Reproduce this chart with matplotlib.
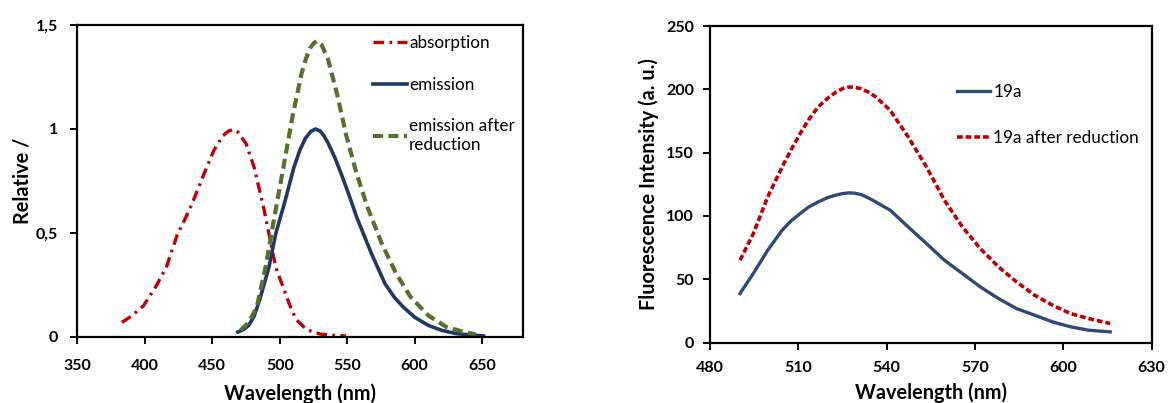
import matplotlib
matplotlib.use("Agg")
import matplotlib.pyplot as plt

plt.rcParams['font.family'] = ['Lato', 'DejaVu Sans']

# ---- Left panel data ----
abs_x = [383, 390, 399, 408, 416, 424, 430, 435, 443, 451, 457.5, 462, 465.5, 469, 475, 481, 488, 493, 497, 503, 507, 512, 520, 530, 540, 549]
abs_y = [0.07, 0.10, 0.15, 0.24, 0.336, 0.49, 0.57, 0.64, 0.77, 0.895, 0.965, 0.99, 0.998, 0.985, 0.930, 0.816, 0.624, 0.464, 0.336, 0.23, 0.16, 0.085, 0.035, 0.014, 0.008, 0.005]

em_x = [469, 473, 477, 481, 485, 492, 497, 504, 510.5, 515, 519, 523, 526.5, 530, 533, 536, 541, 546.5, 552, 557, 563, 568, 578, 585, 591.5, 600, 610, 620, 631, 651]
em_y = [0.024, 0.035, 0.056, 0.10, 0.176, 0.336, 0.496, 0.656, 0.816, 0.90, 0.955, 0.988, 1.0, 0.99, 0.965, 0.93, 0.86, 0.768, 0.67, 0.576, 0.48, 0.40, 0.256, 0.19, 0.144, 0.095, 0.056, 0.032, 0.016, 0.005]

red_x = [471, 477, 483, 489.5, 496, 502.7, 509.3, 516, 519.5, 522.6, 525.5, 528, 531, 535.8, 542.5, 549, 557, 565, 575.7, 586.3, 597, 610, 623.5, 636.7, 645]
red_y = [0.032, 0.07, 0.144, 0.336, 0.576, 0.816, 1.056, 1.263, 1.34, 1.39, 1.415, 1.423, 1.405, 1.335, 1.167, 0.976, 0.784, 0.624, 0.448, 0.304, 0.192, 0.104, 0.048, 0.024, 0.013]

left_yticks = [0, 0.5, 1, 1.5]
left_yticklabels = ['0', '0,5', '1', '1,5']
left_xticks = [350, 400, 450, 500, 550, 600, 650]

# ---- Right panel data ----
r_x = [490.2, 494.7, 499.6, 504.5, 507.5, 510.6, 513.5, 516.7, 520, 522.9, 525, 527.1, 529, 531.4, 534, 536.3, 541.2, 547.3, 553.5, 559.6, 565.7, 571.8, 578, 584.1, 590.2, 596.3, 602.4, 608.6, 615.9]
s19a = [38.7, 54.5, 72.9, 88.7, 96, 101.8, 107, 111, 114.5, 116.5, 117.6, 118.2, 118, 116.8, 114, 111, 104.5, 91.3, 78.2, 65, 54.5, 43.9, 34.7, 26.8, 21.6, 16.3, 12.4, 9.7, 8.4]
s19a_red = [65, 86, 115, 138.7, 152, 165, 176, 186, 193, 198, 200.5, 201.8, 201.6, 200.5, 197.5, 194, 183.4, 162.4, 138.7, 112.4, 91.3, 74.2, 59.7, 47.9, 37.4, 29.5, 22.9, 18.9, 15]
right_xticks = [480, 510, 540, 570, 600, 630]
right_yticks = [0, 50, 100, 150, 200, 250]

fig = plt.figure(figsize=(11.68, 4.03), dpi=100)
W, H = 1168, 403
ax1 = fig.add_axes([77.3 / W, (H - 337) / H, (522.7 - 77.3) / W, (337 - 25) / H])
ax2 = fig.add_axes([710 / W, (H - 342.5) / H, (1151.7 - 710) / W, (342.5 - 26) / H])

navy = '#1F3864'
red = '#C00000'
green = '#56702E'

ax1.plot(abs_x, abs_y, color=red, lw=2.4, linestyle=(0, (3.2, 1.6, 0.8, 1.6)), label='absorption')
ax1.plot(em_x, em_y, color=navy, lw=2.6, label='emission')
ax1.plot(red_x, red_y, color=green, lw=3.0, linestyle=(0, (2.4, 1.3)), label='emission after\nreduction')
ax1.set_xlim(350, 680)
ax1.set_ylim(0, 1.5)
ax1.set_xticks(left_xticks)
ax1.set_yticks(left_yticks)
ax1.set_yticklabels(left_yticklabels)
ax1.set_xlabel('Wavelength (nm)', fontsize=14.3, fontweight='bold', labelpad=7)
ax1.set_ylabel('Relative /', fontsize=14.3, fontweight='bold', labelpad=2)
ax1.legend(loc='upper left', bbox_to_anchor=(0.626, 1.022), frameon=False, fontsize=12.3,
           handlelength=2.0, handletextpad=0.1, labelspacing=1.5, borderaxespad=0.6)

ax2.plot(r_x, s19a, color='#2F4A75', lw=2.4, label='19a')
ax2.plot(r_x, s19a_red, color=red, lw=2.6, linestyle=(0, (1.6, 0.8)), label='19a after reduction')
ax2.set_xlim(480, 630)
ax2.set_ylim(0, 250)
ax2.set_xticks(right_xticks)
ax2.set_yticks(right_yticks)
ax2.set_xlabel('Wavelength (nm)', fontsize=14.3, fontweight='bold', labelpad=6)
ax2.set_ylabel('Fluorescence Intensity (a. u.)', fontsize=14.3, fontweight='bold', labelpad=5)
ax2.legend(loc='upper left', bbox_to_anchor=(0.525, 0.865), frameon=False, fontsize=12.3,
           handlelength=1.9, handletextpad=0.2, labelspacing=1.75)

for ax in (ax1, ax2):
    for s in ax.spines.values():
        s.set_linewidth(1.6)
        s.set_color('black')
    ax.tick_params(direction='out', length=5, width=1.4, labelsize=11.5)
    for lbl in ax.get_xticklabels() + ax.get_yticklabels():
        lbl.set_fontweight('bold')

ax1.tick_params(axis='x', pad=11)
ax1.tick_params(axis='y', pad=9)
ax2.tick_params(axis='x', pad=8)
ax2.tick_params(axis='y', pad=6.5)

fig.savefig('out.png', dpi=100)
